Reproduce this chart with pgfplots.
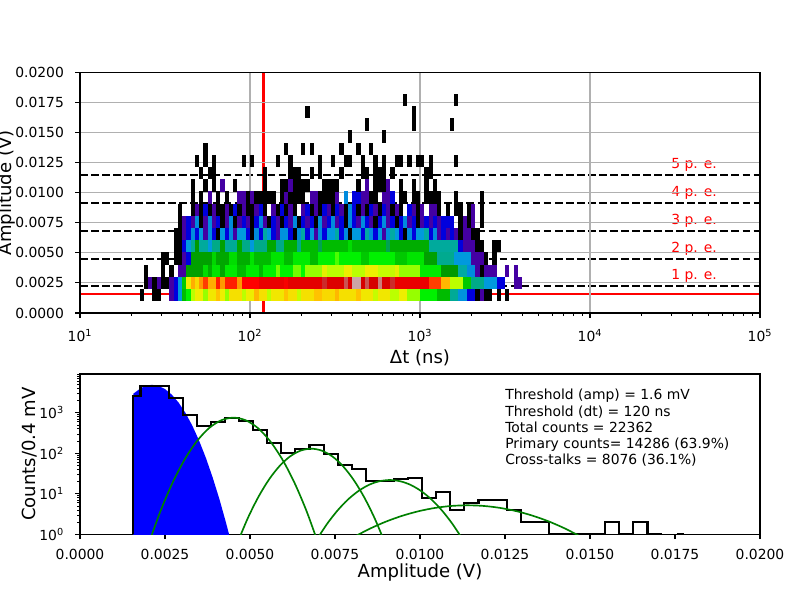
\documentclass[border=0pt]{standalone}
\usepackage{fontspec}
\setmainfont{DejaVu Sans}
\usepackage{pgfplots}
\usepackage{pgfplotstable}
\pgfplotsset{compat=1.18}
\definecolor{mplgreen}{rgb}{0,0.502,0}
\definecolor{gridgray}{HTML}{B0B0B0}
\pgfdeclareplotmark{cell}{\pgfpathrectangle{\pgfpoint{0pt}{-4.42pt}}{\pgfpoint{\celln*3.06pt+0.06pt}{8.84pt}}\pgfusepathqfill}
\pgfplotsset{colormap={nipy}{rgb=(0,0,0) rgb=(0.4667,0,0.5333) rgb=(0.5333,0,0.6) rgb=(0,0,0.6667) rgb=(0,0,0.8667) rgb=(0,0.4667,0.8667) rgb=(0,0.6,0.8667) rgb=(0,0.6667,0.6667) rgb=(0,0.6667,0.5333) rgb=(0,0.6,0) rgb=(0,0.7333,0) rgb=(0,0.8667,0) rgb=(0,1,0) rgb=(0.7333,1,0) rgb=(0.9333,0.9333,0) rgb=(1,0.8,0) rgb=(1,0.6,0) rgb=(1,0,0) rgb=(0.8667,0,0) rgb=(0.8,0,0) rgb=(0.8,0.8,0.8)}}
% x = log10(dt/ns) of the left edge of the first cell, y = amplitude (V) at row centre, n = number of cells, c = colour level
\pgfplotstableread[row sep=\\]{
x y n c\\
1.35 0.0015 1 0\\ 1.425 0.0015 2 0\\ 1.525 0.0015 1 0.125\\ 1.55 0.0015 1 0.2\\ 1.575 0.0015 1 0.3\\ 1.6 0.0015 1 0.5\\ 1.625 0.0015 1 0.58\\ 1.65 0.0015 1 0.65\\ 1.675 0.0015 2 0.7\\ 1.725 0.0015 1 0.64\\ 1.75 0.0015 2 0.71\\ 1.8 0.0015 1 0.76\\ 1.825 0.0015 1 0.7\\ 1.85 0.0015 1 0.64\\ 1.875 0.0015 3 0.72\\ 1.95 0.0015 1 0.65\\ 1.975 0.0015 2 0.7\\ 2.025 0.0015 1 0.77\\ 2.05 0.0015 2 0.72\\ 2.1 0.0015 1 0.65\\ 2.125 0.0015 3 0.71\\ 2.2 0.0015 1 0.76\\ 2.225 0.0015 2 0.72\\ 2.275 0.0015 1 0.66\\ 2.3 0.0015 3 0.72\\ 2.375 0.0015 2 0.76\\ 2.425 0.0015 3 0.73\\ 2.5 0.0015 1 0.77\\ 2.525 0.0015 4 0.72\\ 2.625 0.0015 1 0.76\\ 2.65 0.0015 3 0.71\\ 2.725 0.0015 1 0.66\\ 2.75 0.0015 3 0.71\\ 2.825 0.0015 2 0.65\\ 2.875 0.0015 2 0.7\\ 2.925 0.0015 3 0.64\\ 3.0 0.0015 4 0.58\\ 3.1 0.0015 3 0.5\\ 3.175 0.0015 2 0.38\\ 3.225 0.0015 2 0.29\\ 3.275 0.0015 2 0.2\\ 3.325 0.0015 1 0\\ 3.35 0.0015 1 0.125\\ 3.375 0.0015 2 0\\ 3.45 0.0015 1 0\\ 3.5 0.0015 1 0\\
1.375 0.00251 1 0\\ 1.4 0.00251 1 0.125\\ 1.425 0.00251 1 0\\ 1.45 0.00251 1 0.125\\ 1.475 0.00251 2 0\\ 1.525 0.00251 1 0.125\\ 1.55 0.00251 1 0.2\\ 1.575 0.00251 1 0.3\\ 1.6 0.00251 1 0.52\\ 1.625 0.00251 1 0.7\\ 1.65 0.00251 1 0.78\\ 1.675 0.00251 1 0.73\\ 1.7 0.00251 1 0.8\\ 1.725 0.00251 1 0.83\\ 1.75 0.00251 2 0.78\\ 1.8 0.00251 1 0.84\\ 1.825 0.00251 1 0.8\\ 1.85 0.00251 3 0.84\\ 1.925 0.00251 1 0.8\\ 1.95 0.00251 4 0.85\\ 2.05 0.00251 6 0.88\\ 2.2 0.00251 1 0.86\\ 2.225 0.00251 8 0.89\\ 2.425 0.00251 1 0.96\\ 2.45 0.00251 4 0.9\\ 2.55 0.00251 1 0.97\\ 2.575 0.00251 1 0.91\\ 2.6 0.00251 2 0.99\\ 2.65 0.00251 1 0.92\\ 2.675 0.00251 1 0.97\\ 2.7 0.00251 2 0.92\\ 2.75 0.00251 1 0.98\\ 2.775 0.00251 2 0.91\\ 2.825 0.00251 1 0.96\\ 2.85 0.00251 8 0.88\\ 3.05 0.00251 3 0.83\\ 3.125 0.00251 2 0.77\\ 3.175 0.00251 3 0.65\\ 3.25 0.00251 2 0.52\\ 3.3 0.00251 3 0.4\\ 3.375 0.00251 3 0.3\\ 3.45 0.00251 2 0.2\\ 3.55 0.00251 2 0.125\\
1.375 0.00352 1 0\\ 1.475 0.00352 1 0\\ 1.525 0.00352 1 0\\ 1.575 0.00352 2 0.125\\ 1.625 0.00352 4 0.46\\ 1.725 0.00352 1 0.55\\ 1.75 0.00352 1 0.48\\ 1.775 0.00352 2 0.56\\ 1.825 0.00352 1 0.47\\ 1.85 0.00352 3 0.57\\ 1.925 0.00352 2 0.5\\ 1.975 0.00352 3 0.57\\ 2.05 0.00352 1 0.5\\ 2.075 0.00352 3 0.58\\ 2.15 0.00352 1 0.63\\ 2.175 0.00352 3 0.58\\ 2.25 0.00352 2 0.63\\ 2.3 0.00352 1 0.59\\ 2.325 0.00352 4 0.64\\ 2.425 0.00352 1 0.69\\ 2.45 0.00352 4 0.65\\ 2.55 0.00352 2 0.7\\ 2.6 0.00352 3 0.65\\ 2.675 0.00352 3 0.7\\ 2.75 0.00352 4 0.66\\ 2.85 0.00352 1 0.69\\ 2.875 0.00352 5 0.64\\ 3.0 0.00352 5 0.57\\ 3.125 0.00352 4 0.45\\ 3.225 0.00352 2 0.36\\ 3.275 0.00352 2 0.28\\ 3.325 0.00352 1 0.125\\ 3.35 0.00352 1 0\\ 3.375 0.00352 3 0.125\\ 3.5 0.00352 1 0.125\\ 3.55 0.00352 1 0.125\\
1.475 0.00454 2 0\\ 1.55 0.00454 2 0\\ 1.6 0.00454 1 0.125\\ 1.625 0.00454 1 0.2\\ 1.65 0.00454 5 0.46\\ 1.775 0.00454 1 0.54\\ 1.8 0.00454 3 0.47\\ 1.875 0.00454 2 0.55\\ 1.925 0.00454 3 0.48\\ 2.0 0.00454 1 0.56\\ 2.025 0.00454 4 0.5\\ 2.125 0.00454 3 0.56\\ 2.2 0.00454 2 0.5\\ 2.25 0.00454 4 0.57\\ 2.35 0.00454 2 0.5\\ 2.4 0.00454 4 0.58\\ 2.5 0.00454 1 0.62\\ 2.525 0.00454 5 0.58\\ 2.65 0.00454 2 0.52\\ 2.7 0.00454 6 0.58\\ 2.85 0.00454 3 0.52\\ 2.925 0.00454 4 0.56\\ 3.025 0.00454 3 0.46\\ 3.1 0.00454 4 0.39\\ 3.2 0.00454 4 0.3\\ 3.3 0.00454 3 0.125\\ 3.375 0.00454 1 0\\ 3.425 0.00454 1 0\\
1.55 0.00555 2 0\\ 1.6 0.00555 1 0.2\\ 1.625 0.00555 1 0.3\\ 1.65 0.00555 1 0.38\\ 1.675 0.00555 1 0.45\\ 1.7 0.00555 2 0.37\\ 1.75 0.00555 1 0.3\\ 1.775 0.00555 2 0.4\\ 1.825 0.00555 1 0.46\\ 1.85 0.00555 3 0.38\\ 1.925 0.00555 1 0.47\\ 1.95 0.00555 2 0.4\\ 2.0 0.00555 1 0.3\\ 2.025 0.00555 3 0.4\\ 2.1 0.00555 2 0.47\\ 2.15 0.00555 2 0.4\\ 2.2 0.00555 3 0.48\\ 2.275 0.00555 1 0.4\\ 2.3 0.00555 4 0.5\\ 2.4 0.00555 1 0.42\\ 2.425 0.00555 6 0.5\\ 2.575 0.00555 1 0.55\\ 2.6 0.00555 8 0.5\\ 2.8 0.00555 1 0.42\\ 2.825 0.00555 9 0.48\\ 3.05 0.00555 7 0.37\\ 3.225 0.00555 1 0.2\\ 3.25 0.00555 3 0.125\\ 3.325 0.00555 2 0\\ 3.425 0.00555 2 0\\
1.55 0.00656 2 0\\ 1.6 0.00656 1 0.125\\ 1.625 0.00656 1 0.2\\ 1.65 0.00656 1 0.28\\ 1.675 0.00656 1 0.2\\ 1.7 0.00656 1 0.3\\ 1.725 0.00656 1 0.125\\ 1.75 0.00656 1 0.28\\ 1.775 0.00656 1 0.2\\ 1.8 0.00656 1 0\\ 1.825 0.00656 1 0.3\\ 1.85 0.00656 1 0.2\\ 1.875 0.00656 1 0.28\\ 1.9 0.00656 1 0.125\\ 1.925 0.00656 2 0.3\\ 1.975 0.00656 1 0.2\\ 2.0 0.00656 1 0\\ 2.025 0.00656 1 0.28\\ 2.05 0.00656 1 0.2\\ 2.075 0.00656 1 0.36\\ 2.1 0.00656 1 0.3\\ 2.125 0.00656 1 0.2\\ 2.15 0.00656 1 0.125\\ 2.175 0.00656 2 0.29\\ 2.225 0.00656 1 0.2\\ 2.25 0.00656 1 0\\ 2.275 0.00656 1 0.28\\ 2.3 0.00656 1 0.36\\ 2.325 0.00656 1 0.2\\ 2.35 0.00656 1 0.3\\ 2.375 0.00656 1 0.125\\ 2.4 0.00656 1 0.28\\ 2.425 0.00656 1 0.2\\ 2.45 0.00656 2 0.3\\ 2.5 0.00656 1 0.36\\ 2.525 0.00656 1 0.2\\ 2.55 0.00656 1 0.28\\ 2.575 0.00656 1 0\\ 2.6 0.00656 2 0.3\\ 2.65 0.00656 1 0.2\\ 2.675 0.00656 1 0.36\\ 2.7 0.00656 1 0.28\\ 2.725 0.00656 1 0.2\\ 2.75 0.00656 1 0.3\\ 2.775 0.00656 1 0.125\\ 2.8 0.00656 1 0.28\\ 2.825 0.00656 1 0.36\\ 2.85 0.00656 1 0.3\\ 2.875 0.00656 1 0.2\\ 2.9 0.00656 1 0\\ 2.925 0.00656 1 0.28\\ 2.95 0.00656 1 0.2\\ 2.975 0.00656 2 0.3\\ 3.025 0.00656 1 0.36\\ 3.05 0.00656 1 0.2\\ 3.075 0.00656 1 0.28\\ 3.1 0.00656 1 0.125\\ 3.125 0.00656 1 0.2\\ 3.15 0.00656 1 0.125\\ 3.175 0.00656 1 0.2\\ 3.2 0.00656 1 0.125\\ 3.225 0.00656 1 0\\ 3.25 0.00656 2 0.125\\ 3.3 0.00656 2 0\\
1.575 0.00758 1 0\\ 1.6 0.00758 1 0.125\\ 1.625 0.00758 1 0.2\\ 1.65 0.00758 1 0.125\\ 1.675 0.00758 1 0.28\\ 1.7 0.00758 1 0\\ 1.725 0.00758 1 0.125\\ 1.75 0.00758 1 0.28\\ 1.775 0.00758 1 0.125\\ 1.8 0.00758 1 0.2\\ 1.825 0.00758 1 0\\ 1.85 0.00758 1 0.125\\ 1.875 0.00758 1 0.28\\ 1.9 0.00758 1 0\\ 1.925 0.00758 1 0.125\\ 1.95 0.00758 1 0.2\\ 1.975 0.00758 1 0.125\\ 2.0 0.00758 1 0\\ 2.025 0.00758 1 0.2\\ 2.05 0.00758 1 0.28\\ 2.075 0.00758 1 0.125\\ 2.1 0.00758 1 0\\ 2.125 0.00758 1 0.2\\ 2.15 0.00758 1 0.125\\ 2.175 0.00758 1 0\\ 2.2 0.00758 1 0.2\\ 2.225 0.00758 1 0.125\\ 2.25 0.00758 1 0.28\\ 2.275 0.00758 1 0\\ 2.3 0.00758 1 0.2\\ 2.325 0.00758 1 0.125\\ 2.35 0.00758 1 0.2\\ 2.375 0.00758 1 0\\ 2.4 0.00758 1 0.28\\ 2.425 0.00758 1 0.125\\ 2.45 0.00758 1 0.2\\ 2.475 0.00758 1 0.28\\ 2.5 0.00758 1 0.125\\ 2.525 0.00758 1 0.2\\ 2.55 0.00758 1 0\\ 2.575 0.00758 1 0.28\\ 2.6 0.00758 1 0.2\\ 2.625 0.00758 1 0.125\\ 2.65 0.00758 1 0.28\\ 2.675 0.00758 1 0.2\\ 2.7 0.00758 1 0.125\\ 2.725 0.00758 1 0\\ 2.75 0.00758 1 0.2\\ 2.775 0.00758 1 0.28\\ 2.8 0.00758 1 0.125\\ 2.825 0.00758 1 0.2\\ 2.85 0.00758 1 0\\ 2.875 0.00758 1 0.2\\ 2.9 0.00758 1 0.28\\ 2.925 0.00758 1 0.125\\ 2.95 0.00758 1 0.2\\ 2.975 0.00758 1 0\\ 3.0 0.00758 1 0.125\\ 3.025 0.00758 1 0.2\\ 3.05 0.00758 1 0.125\\ 3.075 0.00758 1 0.2\\ 3.1 0.00758 1 0.125\\ 3.125 0.00758 3 0.2\\ 3.225 0.00758 1 0\\ 3.25 0.00758 1 0.125\\ 3.275 0.00758 1 0\\ 3.3 0.00758 1 0.125\\ 3.35 0.00758 1 0\\
1.575 0.00859 1 0\\ 1.65 0.00859 1 0\\ 1.675 0.00859 1 0.125\\ 1.7 0.00859 1 0\\ 1.725 0.00859 1 0.2\\ 1.75 0.00859 1 0\\ 1.775 0.00859 1 0.125\\ 1.8 0.00859 2 0\\ 1.85 0.00859 1 0.125\\ 1.875 0.00859 1 0\\ 1.9 0.00859 1 0.2\\ 1.925 0.00859 1 0\\ 1.95 0.00859 1 0.125\\ 1.975 0.00859 2 0\\ 2.025 0.00859 1 0.125\\ 2.05 0.00859 1 0.2\\ 2.075 0.00859 1 0\\ 2.125 0.00859 1 0.125\\ 2.15 0.00859 1 0\\ 2.175 0.00859 1 0.2\\ 2.2 0.00859 1 0\\ 2.225 0.00859 1 0.125\\ 2.25 0.00859 1 0\\ 2.3 0.00859 1 0.125\\ 2.325 0.00859 1 0.2\\ 2.35 0.00859 1 0\\ 2.375 0.00859 1 0.125\\ 2.4 0.00859 1 0\\ 2.425 0.00859 1 0.2\\ 2.45 0.00859 1 0.125\\ 2.475 0.00859 1 0\\ 2.5 0.00859 1 0.2\\ 2.525 0.00859 1 0.125\\ 2.55 0.00859 1 0\\ 2.575 0.00859 1 0.28\\ 2.6 0.00859 1 0.2\\ 2.625 0.00859 1 0\\ 2.65 0.00859 1 0.125\\ 2.675 0.00859 1 0\\ 2.7 0.00859 1 0.2\\ 2.725 0.00859 1 0.125\\ 2.75 0.00859 1 0\\ 2.775 0.00859 1 0.2\\ 2.8 0.00859 1 0.125\\ 2.825 0.00859 1 0\\ 2.85 0.00859 1 0.125\\ 2.875 0.00859 1 0\\ 2.925 0.00859 1 0.2\\ 2.95 0.00859 1 0.125\\ 2.975 0.00859 1 0\\ 3.0 0.00859 1 0.125\\ 3.05 0.00859 2 0.125\\ 3.1 0.00859 1 0\\ 3.15 0.00859 1 0\\ 3.2 0.00859 2 0\\ 3.275 0.00859 1 0\\ 3.3 0.00859 1 0.125\\ 3.35 0.00859 1 0\\
1.65 0.0096 1 0\\ 1.7 0.0096 1 0\\ 1.75 0.0096 1 0.125\\ 1.8 0.0096 1 0\\ 1.85 0.0096 1 0\\ 1.925 0.0096 2 0.125\\ 1.975 0.0096 1 0\\ 2.0 0.0096 1 0.125\\ 2.025 0.0096 1 0\\ 2.05 0.0096 2 0\\ 2.1 0.0096 2 0\\ 2.175 0.0096 1 0\\ 2.2 0.0096 1 0.125\\ 2.225 0.0096 4 0\\ 2.35 0.0096 2 0.125\\ 2.4 0.0096 4 0\\ 2.5 0.0096 1 0.125\\ 2.55 0.0096 1 0.28\\ 2.6 0.0096 2 0.2\\ 2.65 0.0096 2 0.125\\ 2.7 0.0096 2 0\\ 2.775 0.0096 2 0.125\\ 2.825 0.0096 1 0.2\\ 2.875 0.0096 2 0\\ 2.95 0.0096 2 0\\ 3.025 0.0096 4 0\\ 3.2 0.0096 1 0\\ 3.35 0.0096 1 0\\
1.65 0.01061 1 0\\ 1.725 0.01061 1 0\\ 1.775 0.01061 1 0\\ 1.825 0.01061 1 0.125\\ 1.9 0.01061 1 0\\ 2.075 0.01061 1 0\\ 2.175 0.01061 2 0\\ 2.225 0.01061 1 0.125\\ 2.25 0.01061 4 0\\ 2.425 0.01061 4 0\\ 2.625 0.01061 1 0\\ 2.675 0.01061 1 0.125\\ 2.725 0.01061 3 0\\ 2.8 0.01061 1 0.125\\ 2.875 0.01061 1 0\\ 2.95 0.01061 1 0\\ 3.025 0.01061 1 0\\ 3.075 0.01061 1 0\\
1.7 0.01163 1 0\\ 1.75 0.01163 2 0\\ 2.075 0.01163 1 0\\ 2.225 0.01163 3 0\\ 2.35 0.01163 1 0\\ 2.4 0.01163 1 0\\ 2.525 0.01163 1 0\\ 2.65 0.01163 2 0\\ 2.725 0.01163 3 0\\ 2.825 0.01163 1 0\\ 3.025 0.01163 2 0\\
1.675 0.01264 1 0\\ 1.725 0.01264 1 0\\ 1.775 0.01264 1 0\\ 1.95 0.01264 1 0\\ 2.0 0.01264 1 0\\ 2.15 0.01264 1 0\\ 2.225 0.01264 1 0\\ 2.4 0.01264 1 0\\ 2.475 0.01264 1 0\\ 2.55 0.01264 2 0\\ 2.65 0.01264 1 0\\ 2.725 0.01264 1 0\\ 2.775 0.01264 1 0\\ 2.85 0.01264 2 0\\ 2.925 0.01264 1 0\\ 2.975 0.01264 2 0\\ 3.05 0.01264 1 0\\ 3.2 0.01264 1 0\\
1.725 0.01365 1 0\\ 2.2 0.01365 1 0\\ 2.3 0.01365 1 0\\ 2.35 0.01365 1 0\\ 2.525 0.01365 1 0\\ 2.625 0.01365 1 0\\ 2.7 0.01365 1 0\\
2.575 0.01467 1 0\\ 2.775 0.01467 1 0\\
2.675 0.01568 1 0\\ 2.95 0.01568 1 0\\ 3.175 0.01568 1 0\\
2.325 0.01669 1 0\\ 2.95 0.01669 1 0\\
2.9 0.0177 1 0\\ 3.2 0.0177 1 0\\
}\cells
\begin{document}
\begin{tikzpicture}
\path[use as bounding box] (0,0) rectangle (576pt,432pt);
\begin{axis}[
  at={(57.6pt,206.64pt)}, anchor=south west,
  scale only axis, width=489.6pt, height=173.16pt,
  xmin=1, xmax=5, ymin=0, ymax=0.02,
  axis on top,
  tick align=outside, tick pos=left,
  major tick length=3.5pt, minor tick length=2pt,
  tick style={black, line width=0.8pt},
  minor tick style={line width=0.6pt},
  axis line style={line width=0.8pt},
  grid=major, major grid style={gridgray, line width=0.8pt},
  xtick={1,2,3,4,5},
  xticklabels={10\textsuperscript{1},10\textsuperscript{2},10\textsuperscript{3},10\textsuperscript{4},10\textsuperscript{5}},
  minor xtick={1.30103,1.47712,1.60206,1.69897,1.77815,1.84510,1.90309,1.95424,2.30103,2.47712,2.60206,2.69897,2.77815,2.84510,2.90309,2.95424,3.30103,3.47712,3.60206,3.69897,3.77815,3.84510,3.90309,3.95424,4.30103,4.47712,4.60206,4.69897,4.77815,4.84510,4.90309,4.95424},
  ytick={0,0.0025,0.005,0.0075,0.01,0.0125,0.015,0.0175,0.02},
  scaled y ticks=false,
  /pgf/number format/assume math mode=true,
  yticklabel style={/pgf/number format/fixed, /pgf/number format/fixed zerofill, /pgf/number format/precision=4},
  tick label style={font=\fontsize{10}{12}\selectfont, inner sep=0pt},
  xticklabel style={anchor=base, yshift=-17.06pt},
  yticklabel style={anchor=east, xshift=-7.9pt},
  label style={font=\fontsize{13}{15.6}\selectfont},
  xlabel={Δt (ns)}, ylabel={Amplitude (V)},
  xlabel style={at={(axis description cs:0.5,-0.2092)}, anchor=base},
  ylabel style={at={(axis description cs:-0.10044,0.5)}, anchor=base},
  colormap name=nipy, point meta min=0, point meta max=1,
]
\addplot[scatter, only marks, mark=cell, point meta=explicit,
  visualization depends on={\thisrow{n} \as \celln}] table[x=x, y=y, meta=c] {\cells};
\addplot[red, line width=1.5pt] coordinates {(1,0.0016) (5,0.0016)};
\addplot[red, line width=1.5pt] coordinates {(2.0792,0) (2.0792,0.02)};
\addplot[black, line width=1.5pt, dash pattern=on 5.55pt off 2.4pt] coordinates {(1,0.00225) (5,0.00225)};
\addplot[black, line width=1.5pt, dash pattern=on 5.55pt off 2.4pt] coordinates {(1,0.00452) (5,0.00452)};
\addplot[black, line width=1.5pt, dash pattern=on 5.55pt off 2.4pt] coordinates {(1,0.00685) (5,0.00685)};
\addplot[black, line width=1.5pt, dash pattern=on 5.55pt off 2.4pt] coordinates {(1,0.00918) (5,0.00918)};
\addplot[black, line width=1.5pt, dash pattern=on 5.55pt off 2.4pt] coordinates {(1,0.01151) (5,0.01151)};
\node[red, anchor=base west, inner sep=0pt, font=\fontsize{10}{12}\selectfont] at (axis cs:4.4771,0.00275) {1 p. e.};
\node[red, anchor=base west, inner sep=0pt, font=\fontsize{10}{12}\selectfont] at (axis cs:4.4771,0.00502) {2 p. e.};
\node[red, anchor=base west, inner sep=0pt, font=\fontsize{10}{12}\selectfont] at (axis cs:4.4771,0.00732) {3 p. e.};
\node[red, anchor=base west, inner sep=0pt, font=\fontsize{10}{12}\selectfont] at (axis cs:4.4771,0.00968) {4 p. e.};
\node[red, anchor=base west, inner sep=0pt, font=\fontsize{10}{12}\selectfont] at (axis cs:4.4771,0.01198) {5 p. e.};
\end{axis}
\begin{axis}[
  at={(57.6pt,47.30pt)}, anchor=south west,
  scale only axis, width=489.6pt, height=115.42pt,
  xmin=0, xmax=0.02, ymin=1, ymax=9078, ymode=log,
  tick align=outside, tick pos=left,
  major tick length=3.5pt, minor tick length=2pt,
  tick style={black, line width=0.8pt},
  minor tick style={line width=0.6pt},
  axis line style={line width=0.8pt},
  xtick={0,0.0025,0.005,0.0075,0.01,0.0125,0.015,0.0175,0.02},
  scaled x ticks=false,
  /pgf/number format/assume math mode=true,
  xticklabel style={/pgf/number format/fixed, /pgf/number format/fixed zerofill, /pgf/number format/precision=4},
  ytick={1,10,100,1000},
  yticklabels={10\textsuperscript{0},10\textsuperscript{1},10\textsuperscript{2},10\textsuperscript{3}},
  minor ytick={2,3,4,5,6,7,8,9,20,30,40,50,60,70,80,90,200,300,400,500,600,700,800,900,2000,3000,4000,5000,6000,7000,8000,9000},
  tick label style={font=\fontsize{10}{12}\selectfont, inner sep=0pt},
  xticklabel style={anchor=base, yshift=-14.9pt},
  yticklabel style={anchor=east, xshift=-7.9pt},
  label style={font=\fontsize{13}{15.6}\selectfont},
  xlabel={Amplitude (V)}, ylabel={Counts/0.4 mV},
  xlabel style={at={(axis description cs:0.5,-0.2664)}, anchor=base},
  ylabel style={at={(axis description cs:-0.0654,0.5)}, anchor=base},
]
\addplot[fill=blue, draw=none] coordinates {(0.00157,0.5) (0.00157,2965) (0.0018,4130) (0.0020,4786) (0.00212,4898) (0.0023,4645) (0.0025,3855) (0.0027,2805) (0.0029,1786) (0.0031,1000) (0.0033,488) (0.0035,208) (0.0037,78) (0.0039,25.6) (0.0041,7.4) (0.0043,1.86) (0.0044,0.885) (0.0045,0.41)} -- cycle;
\addplot[black, line width=1.5pt, const plot] coordinates {(0.00157,1) (0.00157,2600) (0.00178,4590) (0.002194,4590) (0.002608,2360) (0.003023,898) (0.003437,464) (0.003851,593) (0.004265,757) (0.004679,639) (0.005094,370) (0.005508,180) (0.005922,104) (0.006336,130) (0.00675,158) (0.007165,94) (0.007579,51) (0.007993,42) (0.008407,21) (0.008821,21) (0.009236,23) (0.00965,25) (0.010064,8) (0.010478,11) (0.010892,4) (0.011307,6) (0.011721,7) (0.012135,7) (0.012549,4) (0.012963,2) (0.013378,2) (0.013792,1) (0.014206,1) (0.01462,1) (0.015034,1) (0.015449,2) (0.015863,1) (0.016277,2) (0.016691,1) (0.017105,1)};
\addplot[black, line width=1.5pt] coordinates {(0.01755,1) (0.01775,1)};
\addplot[mplgreen, line width=1.2pt, smooth] coordinates {(0.001995,0.507) (0.002355,3.53) (0.002715,18.2) (0.003075,69.7) (0.003435,198) (0.003795,418) (0.004155,653) (0.004515,759) (0.004875,653) (0.005235,418) (0.005595,198) (0.005955,69.7) (0.006315,18.2) (0.006675,3.53) (0.007035,0.507)};
\addplot[mplgreen, line width=1.2pt, smooth] coordinates {(0.004627,0.607) (0.004937,2.52) (0.005248,8.41) (0.005558,22.5) (0.005869,48.5) (0.006179,83.9) (0.00649,116.5) (0.0068,130) (0.00711,116.5) (0.007421,83.9) (0.007731,48.5) (0.008042,22.5) (0.008352,8.41) (0.008663,2.52) (0.008973,0.607)};
\addplot[mplgreen, line width=1.2pt, smooth] coordinates {(0.006958,0.729) (0.007265,1.80) (0.007573,3.86) (0.00788,7.21) (0.008188,11.7) (0.008495,16.6) (0.008803,20.4) (0.00911,21.9) (0.009418,20.4) (0.009725,16.6) (0.010033,11.7) (0.01034,7.21) (0.010648,3.86) (0.010955,1.80) (0.011263,0.729)};
\addplot[mplgreen, line width=1.2pt, smooth] coordinates {(0.00804,0.845) (0.00852,1.37) (0.009,2.06) (0.00948,2.87) (0.00996,3.72) (0.01044,4.48) (0.01092,5.01) (0.0114,5.2) (0.01188,5.01) (0.01236,4.48) (0.01284,3.72) (0.01332,2.87) (0.0138,2.06) (0.01428,1.37) (0.01476,0.845)};
\node[anchor=base west, inner sep=0pt, font=\fontsize{10}{12}\selectfont] at (rel axis cs:0.625,0.838) {Threshold (amp) = 1.6 mV};
\node[anchor=base west, inner sep=0pt, font=\fontsize{10}{12}\selectfont] at (rel axis cs:0.625,0.737) {Threshold (dt) = 120 ns};
\node[anchor=base west, inner sep=0pt, font=\fontsize{10}{12}\selectfont] at (rel axis cs:0.625,0.636) {Total counts = 22362};
\node[anchor=base west, inner sep=0pt, font=\fontsize{10}{12}\selectfont] at (rel axis cs:0.625,0.535) {Primary counts= 14286 (63.9\%)};
\node[anchor=base west, inner sep=0pt, font=\fontsize{10}{12}\selectfont] at (rel axis cs:0.625,0.434) {Cross-talks = 8076 (36.1\%)};
\end{axis}
\end{tikzpicture}
\end{document}
